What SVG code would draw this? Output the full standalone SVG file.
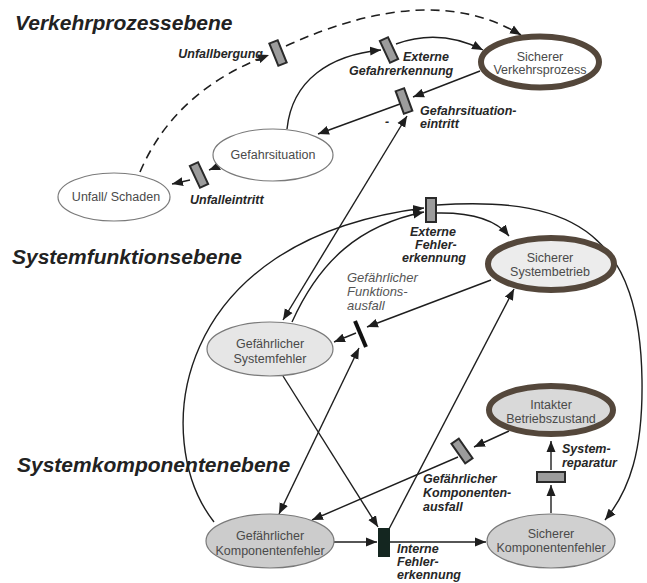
<svg xmlns="http://www.w3.org/2000/svg" width="647" height="583" viewBox="0 0 647 583">
<defs>
<marker id="ah" markerUnits="userSpaceOnUse" markerWidth="12" markerHeight="10" refX="11" refY="4.5" orient="auto-start-reverse" viewBox="0 0 12 9">
<path d="M0,0 L11,4.5 L0,9 z" fill="#1e1e1e"/>
</marker>
<style>
.title{font-family:"Liberation Sans",Arial,sans-serif;font-weight:bold;font-style:italic;font-size:21px;fill:#222}
.lbl{font-family:"Liberation Sans",Arial,sans-serif;font-weight:bold;font-style:italic;font-size:12.5px;fill:#262626}
.lblg{font-family:"Liberation Sans",Arial,sans-serif;font-style:italic;font-size:13px;fill:#555}
.nt{font-family:"Liberation Sans",Arial,sans-serif;font-size:12.5px;fill:#4a4a4a;text-anchor:middle}
.thin{stroke:#7a7a7a;stroke-width:1.2}
.safe{stroke:#54473b;stroke-width:6}
.c{fill:none;stroke:#1e1e1e;stroke-width:1.4}
.e{marker-end:url(#ah)}
.b{marker-start:url(#ah);marker-end:url(#ah)}
.d{stroke-dasharray:9 6;stroke-width:1.6}
.bar{fill:#9c9c9c;stroke:#2a2a2a;stroke-width:2}
</style>
</defs>
<rect width="647" height="583" fill="#fff"/>
<text class="title" x="15" y="30">Verkehrprozessebene</text>
<text class="title" x="12" y="264">Systemfunktionsebene</text>
<text class="title" x="17" y="472">Systemkomponentenebene</text>

<g id="connectors">
<path class="c d e" d="M140,172 Q175,90 269,55"/>
<path class="c d e" d="M286,46 Q430,-20 521,35"/>
<path class="c e" d="M287,129 C292,80 330,55 381,50"/>
<path class="c e" d="M396,44 Q440,28 483,50"/>
<path class="c e" d="M480,71 L413,97"/>
<path class="c e" d="M400,104 L318,134"/>
<path class="c b" d="M283,320 L407,116"/>
<path class="c e" d="M219,166 L209,170"/>
<path class="c e" d="M190,180 L172,184"/>
<path class="c e" d="M214,522 C150,440 170,240 424,208"/>
<path class="c e" d="M292,322 C320,260 360,225 424,212"/>
<path class="c e" d="M437,213 Q490,212 509,236"/>
<path class="c e" d="M437,205 C580,195 640,240 642,380 C643,450 630,490 605,520"/>
<path class="c e" d="M491,280 L367,327"/>
<path class="c e" d="M356,333 L334,342"/>
<path class="c b" d="M279,514 L359,348"/>
<path class="c e" d="M283,376 L378,527"/>
<path class="c e" d="M334,542 L377,542"/>
<path class="c e" d="M390,542 L486,542"/>
<path class="c e" d="M389,529 L514,289"/>
<path class="c e" d="M509,431 L474,447"/>
<path class="c e" d="M458,457 L312,520"/>
<path class="c e" d="M551,513 L551,485"/>
<path class="c e" d="M551,470 L551,441"/>
</g>

<g id="transitions">
<rect class="bar" x="-4.5" y="-12" width="9" height="24" transform="translate(278,53) rotate(-22)"/>
<rect class="bar" x="-4.5" y="-12" width="9" height="24" transform="translate(389,50) rotate(-25)"/>
<rect class="bar" x="-4.5" y="-12" width="9" height="24" transform="translate(404,101) rotate(-20)"/>
<rect class="bar" x="-4.5" y="-12" width="9" height="24" transform="translate(199,175) rotate(-25)"/>
<rect class="bar" x="-4.5" y="-12" width="9" height="24" transform="translate(462,451) rotate(-35)"/>
<rect class="bar" x="426" y="198" width="10" height="24"/>
<rect class="bar" x="537" y="472" width="28" height="10"/>
<rect x="378" y="528" width="12" height="29" fill="#142620"/>
<line x1="355" y1="321" x2="366" y2="347" stroke="#111" stroke-width="4"/>
</g>

<g id="labels">
<text class="lbl" x="263" y="58" text-anchor="end">Unfallbergung</text>
<text class="lbl" x="403" y="61">Externe</text>
<text class="lbl" x="349" y="75">Gefahrerkennung</text>
<text class="lbl" x="420" y="115">Gefahrsituation-</text>
<text class="lbl" x="420" y="128">eintritt</text>
<text class="lbl" x="385" y="126">-</text>
<text class="lbl" x="190" y="204">Unfalleintritt</text>
<text class="lbl" x="410" y="236">Externe</text>
<text class="lbl" x="415" y="249">Fehler-</text>
<text class="lbl" x="402" y="262">erkennung</text>
<text class="lblg" x="347" y="282">Gefährlicher</text>
<text class="lblg" x="347" y="296">Funktions-</text>
<text class="lblg" x="347" y="310">ausfall</text>
<text class="lbl" x="423" y="483">Gefährlicher</text>
<text class="lbl" x="423" y="497">Komponenten-</text>
<text class="lbl" x="423" y="511">ausfall</text>
<text class="lbl" x="562" y="453">System-</text>
<text class="lbl" x="562" y="467">reparatur</text>
<text class="lbl" x="397" y="553">Interne</text>
<text class="lbl" x="397" y="566">Fehler-</text>
<text class="lbl" x="397" y="579">erkennung</text>
</g>

<g id="unfall">
<ellipse class="thin" cx="114" cy="197" rx="56" ry="24" fill="#fff"/>
<text class="nt" x="116" y="201">Unfall/ Schaden</text>
</g>
<g id="gefahrsituation">
<ellipse class="thin" cx="273" cy="155" rx="60" ry="26" fill="#fff"/>
<text class="nt" x="273" y="159">Gefahrsituation</text>
</g>
<g id="sicherer-verkehrsprozess">
<ellipse class="safe" cx="540" cy="62" rx="59" ry="25.5" fill="#fff"/>
<text class="nt" x="540" y="61">Sicherer</text>
<text class="nt" x="540" y="74">Verkehrsprozess</text>
</g>
<g id="gefaehrlicher-systemfehler">
<ellipse class="thin" cx="270" cy="349" rx="63" ry="27" fill="#e6e6e6"/>
<text class="nt" x="270" y="348">Gefährlicher</text>
<text class="nt" x="270" y="363">Systemfehler</text>
</g>
<g id="sicherer-systembetrieb">
<ellipse class="safe" cx="551" cy="264" rx="63" ry="26" fill="#ececec"/>
<text class="nt" x="550" y="262">Sicherer</text>
<text class="nt" x="550" y="276">Systembetrieb</text>
</g>
<g id="intakter-betriebszustand">
<ellipse class="safe" cx="551" cy="410" rx="62" ry="24" fill="#d9d9d9"/>
<text class="nt" x="551" y="409">Intakter</text>
<text class="nt" x="551" y="423">Betriebszustand</text>
</g>
<g id="gefaehrlicher-komponentenfehler">
<ellipse class="thin" cx="270" cy="541" rx="64" ry="27" fill="#cccccc"/>
<text class="nt" x="270" y="540">Gefährlicher</text>
<text class="nt" x="270" y="555">Komponentenfehler</text>
</g>
<g id="sicherer-komponentenfehler">
<ellipse class="thin" cx="551" cy="541" rx="64" ry="27" fill="#d0d0d0"/>
<text class="nt" x="551" y="538">Sicherer</text>
<text class="nt" x="551" y="552">Komponentenfehler</text>
</g>
</svg>
